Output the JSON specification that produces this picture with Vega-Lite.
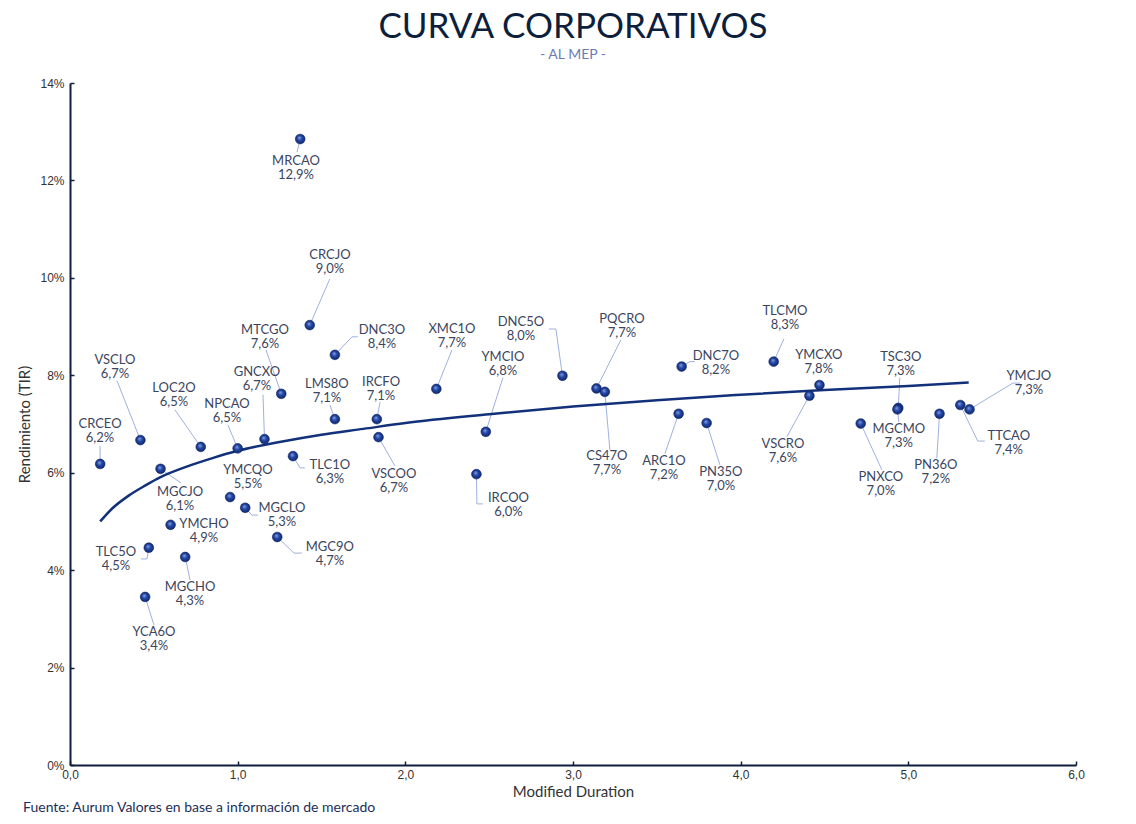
{
  "$schema": "https://vega.github.io/schema/vega-lite/v6.json",
  "autosize": "none",
  "width": 1006,
  "height": 682,
  "padding": {"left": 70, "top": 83, "right": 60, "bottom": 59},
  "background": "white",
  "title": {
    "text": "CURVA CORPORATIVOS",
    "subtitle": "- AL MEP -",
    "anchor": "middle",
    "font": "Lato",
    "fontSize": 35,
    "fontWeight": 400,
    "color": "#0d1f3c",
    "subtitleFont": "Lato",
    "subtitleFontSize": 14,
    "subtitleColor": "#6d7cb3",
    "subtitlePadding": 3,
    "offset": 15
  },
  "config": {
    "view": {"stroke": null},
    "locale": {"number": {"decimal": ",", "thousands": ".", "grouping": [3], "currency": ["$", ""]}},
    "axis": {
      "grid": false,
      "domainColor": "#0f1e3d",
      "domainWidth": 2,
      "tickColor": "#0f1e3d",
      "tickWidth": 1.5,
      "tickSize": -4,
      "labelFont": "Liberation Sans",
      "labelFontSize": 12,
      "labelColor": "#333333",
      "labelFlush": false,
      "titleFont": "Lato",
      "titleFontSize": 15,
      "titleFontWeight": 400,
      "titleColor": "#333333"
    }
  },
  "datasets": {
    "bonds": [
      {"name": "MRCAO", "val": "12,9%", "dur": 1.373, "tir": 12.85, "lx": 1.348, "ly": 12.26},
      {"name": "CRCJO", "val": "9,0%", "dur": 1.43, "tir": 9.03, "lx": 1.55, "ly": 10.32},
      {"name": "DNC3O", "val": "8,4%", "dur": 1.58, "tir": 8.42, "lx": 1.86, "ly": 8.78},
      {"name": "MTCGO", "val": "7,6%", "dur": 1.26, "tir": 7.62, "lx": 1.163, "ly": 8.79},
      {"name": "GNCXO", "val": "6,7%", "dur": 1.16, "tir": 6.69, "lx": 1.115, "ly": 7.93},
      {"name": "LMS8O", "val": "7,1%", "dur": 1.58, "tir": 7.1, "lx": 1.532, "ly": 7.67},
      {"name": "IRCFO", "val": "7,1%", "dur": 1.83, "tir": 7.1, "lx": 1.855, "ly": 7.72},
      {"name": "VSCOO", "val": "6,7%", "dur": 1.84, "tir": 6.73, "lx": 1.932, "ly": 5.83},
      {"name": "TLC1O", "val": "6,3%", "dur": 1.33, "tir": 6.34, "lx": 1.55, "ly": 6.02},
      {"name": "NPCAO", "val": "6,5%", "dur": 1.0, "tir": 6.5, "lx": 0.936, "ly": 7.27},
      {"name": "LOC2O", "val": "6,5%", "dur": 0.78, "tir": 6.53, "lx": 0.62, "ly": 7.6},
      {"name": "VSCLO", "val": "6,7%", "dur": 0.42, "tir": 6.67, "lx": 0.268, "ly": 8.17},
      {"name": "CRCEO", "val": "6,2%", "dur": 0.18, "tir": 6.18, "lx": 0.179, "ly": 6.86},
      {"name": "MGCJO", "val": "6,1%", "dur": 0.54, "tir": 6.08, "lx": 0.656, "ly": 5.46},
      {"name": "YMCQO", "val": "5,5%", "dur": 0.955, "tir": 5.5, "lx": 1.061, "ly": 5.92},
      {"name": "MGCLO", "val": "5,3%", "dur": 1.045, "tir": 5.28, "lx": 1.264, "ly": 5.14},
      {"name": "YMCHO", "val": "4,9%", "dur": 0.6, "tir": 4.93, "lx": 0.799, "ly": 4.8},
      {"name": "TLC5O", "val": "4,5%", "dur": 0.47, "tir": 4.46, "lx": 0.274, "ly": 4.23},
      {"name": "MGCHO", "val": "4,3%", "dur": 0.687, "tir": 4.27, "lx": 0.716, "ly": 3.52},
      {"name": "MGC9O", "val": "4,7%", "dur": 1.236, "tir": 4.68, "lx": 1.55, "ly": 4.34},
      {"name": "YCA6O", "val": "3,4%", "dur": 0.448, "tir": 3.45, "lx": 0.501, "ly": 2.58},
      {"name": "XMC1O", "val": "7,7%", "dur": 2.185, "tir": 7.72, "lx": 2.278, "ly": 8.81},
      {"name": "YMCIO", "val": "6,8%", "dur": 2.48, "tir": 6.84, "lx": 2.582, "ly": 8.23},
      {"name": "IRCOO", "val": "6,0%", "dur": 2.424, "tir": 5.97, "lx": 2.615, "ly": 5.33},
      {"name": "DNC5O", "val": "8,0%", "dur": 2.937, "tir": 7.99, "lx": 2.689, "ly": 8.95},
      {"name": "PQCRO", "val": "7,7%", "dur": 3.14, "tir": 7.73, "lx": 3.292, "ly": 9.01},
      {"name": "CS47O", "val": "7,7%", "dur": 3.19, "tir": 7.66, "lx": 3.202, "ly": 6.19},
      {"name": "DNC7O", "val": "8,2%", "dur": 3.648, "tir": 8.18, "lx": 3.852, "ly": 8.26},
      {"name": "ARC1O", "val": "7,2%", "dur": 3.63, "tir": 7.21, "lx": 3.542, "ly": 6.1},
      {"name": "PN35O", "val": "7,0%", "dur": 3.797, "tir": 7.02, "lx": 3.882, "ly": 5.88},
      {"name": "TLCMO", "val": "8,3%", "dur": 4.197, "tir": 8.28, "lx": 4.264, "ly": 9.17},
      {"name": "YMCXO", "val": "7,8%", "dur": 4.47, "tir": 7.8, "lx": 4.466, "ly": 8.28},
      {"name": "VSCRO", "val": "7,6%", "dur": 4.41, "tir": 7.58, "lx": 4.252, "ly": 6.44},
      {"name": "TSC3O", "val": "7,3%", "dur": 4.94, "tir": 7.33, "lx": 4.955, "ly": 8.23},
      {"name": "MGCMO", "val": "7,3%", "dur": 4.935, "tir": 7.3, "lx": 4.943, "ly": 6.76},
      {"name": "PNXCO", "val": "7,0%", "dur": 4.716, "tir": 7.01, "lx": 4.836, "ly": 5.77},
      {"name": "PN36O", "val": "7,2%", "dur": 5.186, "tir": 7.21, "lx": 5.164, "ly": 6.02},
      {"name": "TTCAO", "val": "7,4%", "dur": 5.31, "tir": 7.39, "lx": 5.599, "ly": 6.62},
      {"name": "YMCJO", "val": "7,3%", "dur": 5.365, "tir": 7.3, "lx": 5.719, "ly": 7.85}
    ],
    "leaders": [
      {"name": "MRCAO", "seq": 0, "dur": 1.373, "tir": 12.85}, {"name": "MRCAO", "seq": 1, "dur": 1.354, "tir": 12.58},
      {"name": "CRCJO", "seq": 0, "dur": 1.43, "tir": 9.03}, {"name": "CRCJO", "seq": 1, "dur": 1.55, "tir": 9.98},
      {"name": "DNC3O", "seq": 0, "dur": 1.58, "tir": 8.42}, {"name": "DNC3O", "seq": 1, "dur": 1.682, "tir": 8.79}, {"name": "DNC3O", "seq": 2, "dur": 1.717, "tir": 8.79},
      {"name": "MTCGO", "seq": 0, "dur": 1.26, "tir": 7.62}, {"name": "MTCGO", "seq": 1, "dur": 1.169, "tir": 8.52},
      {"name": "GNCXO", "seq": 0, "dur": 1.16, "tir": 6.69}, {"name": "GNCXO", "seq": 1, "dur": 1.151, "tir": 7.6},
      {"name": "LMS8O", "seq": 0, "dur": 1.58, "tir": 7.1}, {"name": "LMS8O", "seq": 1, "dur": 1.55, "tir": 7.39},
      {"name": "IRCFO", "seq": 0, "dur": 1.83, "tir": 7.1}, {"name": "IRCFO", "seq": 1, "dur": 1.849, "tir": 7.45},
      {"name": "VSCOO", "seq": 0, "dur": 1.84, "tir": 6.73}, {"name": "VSCOO", "seq": 1, "dur": 1.938, "tir": 6.14},
      {"name": "TLC1O", "seq": 0, "dur": 1.33, "tir": 6.34}, {"name": "TLC1O", "seq": 1, "dur": 1.372, "tir": 6.1}, {"name": "TLC1O", "seq": 2, "dur": 1.401, "tir": 6.1},
      {"name": "NPCAO", "seq": 0, "dur": 1.0, "tir": 6.5}, {"name": "NPCAO", "seq": 1, "dur": 0.942, "tir": 6.98},
      {"name": "LOC2O", "seq": 0, "dur": 0.78, "tir": 6.53}, {"name": "LOC2O", "seq": 1, "dur": 0.626, "tir": 7.29},
      {"name": "VSCLO", "seq": 0, "dur": 0.42, "tir": 6.67}, {"name": "VSCLO", "seq": 1, "dur": 0.28, "tir": 7.89},
      {"name": "CRCEO", "seq": 0, "dur": 0.18, "tir": 6.18}, {"name": "CRCEO", "seq": 1, "dur": 0.179, "tir": 6.55},
      {"name": "MGCJO", "seq": 0, "dur": 0.54, "tir": 6.08}, {"name": "MGCJO", "seq": 1, "dur": 0.662, "tir": 5.79},
      {"name": "MGCLO", "seq": 0, "dur": 1.045, "tir": 5.28}, {"name": "MGCLO", "seq": 1, "dur": 1.085, "tir": 5.13}, {"name": "MGCLO", "seq": 2, "dur": 1.121, "tir": 5.13},
      {"name": "TLC5O", "seq": 0, "dur": 0.47, "tir": 4.46}, {"name": "TLC5O", "seq": 1, "dur": 0.459, "tir": 4.23}, {"name": "TLC5O", "seq": 2, "dur": 0.423, "tir": 4.23},
      {"name": "MGCHO", "seq": 0, "dur": 0.687, "tir": 4.27}, {"name": "MGCHO", "seq": 1, "dur": 0.716, "tir": 3.8},
      {"name": "MGC9O", "seq": 0, "dur": 1.236, "tir": 4.68}, {"name": "MGC9O", "seq": 1, "dur": 1.336, "tir": 4.35}, {"name": "MGC9O", "seq": 2, "dur": 1.383, "tir": 4.35},
      {"name": "YCA6O", "seq": 0, "dur": 0.448, "tir": 3.45}, {"name": "YCA6O", "seq": 1, "dur": 0.501, "tir": 2.87},
      {"name": "XMC1O", "seq": 0, "dur": 2.185, "tir": 7.72}, {"name": "XMC1O", "seq": 1, "dur": 2.278, "tir": 8.52},
      {"name": "YMCIO", "seq": 0, "dur": 2.48, "tir": 6.84}, {"name": "YMCIO", "seq": 1, "dur": 2.582, "tir": 7.95},
      {"name": "IRCOO", "seq": 0, "dur": 2.424, "tir": 5.97}, {"name": "IRCOO", "seq": 1, "dur": 2.427, "tir": 5.36}, {"name": "IRCOO", "seq": 2, "dur": 2.463, "tir": 5.36},
      {"name": "DNC5O", "seq": 0, "dur": 2.937, "tir": 7.99}, {"name": "DNC5O", "seq": 1, "dur": 2.898, "tir": 8.95}, {"name": "DNC5O", "seq": 2, "dur": 2.856, "tir": 8.95},
      {"name": "PQCRO", "seq": 0, "dur": 3.14, "tir": 7.73}, {"name": "PQCRO", "seq": 1, "dur": 3.286, "tir": 8.73},
      {"name": "CS47O", "seq": 0, "dur": 3.19, "tir": 7.66}, {"name": "CS47O", "seq": 1, "dur": 3.22, "tir": 6.47},
      {"name": "DNC7O", "seq": 0, "dur": 3.648, "tir": 8.18}, {"name": "DNC7O", "seq": 1, "dur": 3.697, "tir": 8.28}, {"name": "DNC7O", "seq": 2, "dur": 3.727, "tir": 8.28},
      {"name": "ARC1O", "seq": 0, "dur": 3.63, "tir": 7.21}, {"name": "ARC1O", "seq": 1, "dur": 3.548, "tir": 6.39},
      {"name": "PN35O", "seq": 0, "dur": 3.797, "tir": 7.02}, {"name": "PN35O", "seq": 1, "dur": 3.876, "tir": 6.16},
      {"name": "TLCMO", "seq": 0, "dur": 4.197, "tir": 8.28}, {"name": "TLCMO", "seq": 1, "dur": 4.258, "tir": 8.75},
      {"name": "VSCRO", "seq": 0, "dur": 4.41, "tir": 7.58}, {"name": "VSCRO", "seq": 1, "dur": 4.276, "tir": 6.74},
      {"name": "TSC3O", "seq": 0, "dur": 4.94, "tir": 7.33}, {"name": "TSC3O", "seq": 1, "dur": 4.949, "tir": 7.95},
      {"name": "MGCMO", "seq": 0, "dur": 4.935, "tir": 7.3}, {"name": "MGCMO", "seq": 1, "dur": 4.943, "tir": 7.04},
      {"name": "PNXCO", "seq": 0, "dur": 4.716, "tir": 7.01}, {"name": "PNXCO", "seq": 1, "dur": 4.842, "tir": 6.06},
      {"name": "PN36O", "seq": 0, "dur": 5.186, "tir": 7.21}, {"name": "PN36O", "seq": 1, "dur": 5.17, "tir": 6.3},
      {"name": "TTCAO", "seq": 0, "dur": 5.31, "tir": 7.39}, {"name": "TTCAO", "seq": 1, "dur": 5.414, "tir": 6.65}, {"name": "TTCAO", "seq": 2, "dur": 5.456, "tir": 6.65},
      {"name": "YMCJO", "seq": 0, "dur": 5.365, "tir": 7.3}, {"name": "YMCJO", "seq": 1, "dur": 5.623, "tir": 7.84}, {"name": "YMCJO", "seq": 2, "dur": 5.665, "tir": 7.84}
    ],
    "curve": [
      {"dur": 0.18, "tir": 5.0},
      {"dur": 0.25, "tir": 5.26},
      {"dur": 0.35, "tir": 5.53},
      {"dur": 0.45, "tir": 5.74},
      {"dur": 0.54, "tir": 5.91},
      {"dur": 0.7, "tir": 6.13},
      {"dur": 0.85, "tir": 6.3},
      {"dur": 1.0, "tir": 6.45},
      {"dur": 1.25, "tir": 6.63},
      {"dur": 1.5, "tir": 6.78},
      {"dur": 1.75, "tir": 6.9},
      {"dur": 2.0, "tir": 7.02},
      {"dur": 2.5, "tir": 7.2},
      {"dur": 3.0, "tir": 7.36},
      {"dur": 3.5, "tir": 7.49},
      {"dur": 4.0, "tir": 7.6},
      {"dur": 4.5, "tir": 7.7},
      {"dur": 5.0, "tir": 7.78},
      {"dur": 5.36, "tir": 7.85}
    ]
  },
  "encoding": {
    "x": {
      "field": "dur", "type": "quantitative",
      "scale": {"domain": [0, 6], "nice": false, "zero": false},
      "axis": {"title": "Modified Duration", "format": ".1f", "values": [0, 1, 2, 3, 4, 5, 6], "labelPadding": 8, "titlePadding": 4}
    },
    "y": {
      "field": "tir", "type": "quantitative",
      "scale": {"domain": [0, 14], "nice": false},
      "axis": {"title": "Rendimiento (TIR)", "values": [0, 2, 4, 6, 8, 10, 12, 14], "labelExpr": "datum.value + '%'", "labelPadding": 10, "titlePadding": 7}
    }
  },
  "layer": [
    {
      "data": {"name": "leaders"},
      "mark": {"type": "line", "color": "#9fb1e0", "strokeWidth": 1, "interpolate": "linear"},
      "encoding": {"detail": {"field": "name"}, "order": {"field": "seq"}}
    },
    {
      "data": {"name": "curve"},
      "mark": {"type": "line", "color": "#12317a", "strokeWidth": 2.5, "interpolate": "monotone"},
      "encoding": {}
    },
    {
      "data": {"name": "bonds"},
      "mark": {
        "type": "point", "shape": "circle", "filled": true, "size": 95, "opacity": 1,
        "fill": {"gradient": "radial", "x1": 0.4, "y1": 0.35, "r1": 0, "x2": 0.5, "y2": 0.5, "r2": 0.55,
          "stops": [{"offset": 0, "color": "#8fa6e6"}, {"offset": 0.45, "color": "#2348a6"}, {"offset": 1, "color": "#0e2466"}]},
        "stroke": "#0e2466", "strokeWidth": 0.6
      },
      "encoding": {}
    },
    {
      "data": {"name": "bonds"},
      "mark": {"type": "text", "font": "Lato", "fontSize": 13, "color": "#3b4560", "dy": -7, "baseline": "middle", "align": "center"},
      "encoding": {"x": {"field": "lx", "type": "quantitative"}, "y": {"field": "ly", "type": "quantitative"}, "text": {"field": "name"}}
    },
    {
      "data": {"name": "bonds"},
      "mark": {"type": "text", "font": "Lato", "fontSize": 13, "color": "#3b4560", "dy": 7, "baseline": "middle", "align": "center"},
      "encoding": {"x": {"field": "lx", "type": "quantitative"}, "y": {"field": "ly", "type": "quantitative"}, "text": {"field": "val"}}
    },
    {
      "data": {"values": [{"note": "Fuente: Aurum Valores en base a información de mercado", "nx": -0.28, "ny": -0.88}]},
      "mark": {"type": "text", "font": "Lato", "fontSize": 14, "color": "#1d2f57", "align": "left", "baseline": "middle"},
      "encoding": {"x": {"field": "nx", "type": "quantitative"}, "y": {"field": "ny", "type": "quantitative"}, "text": {"field": "note"}}
    }
  ]
}
